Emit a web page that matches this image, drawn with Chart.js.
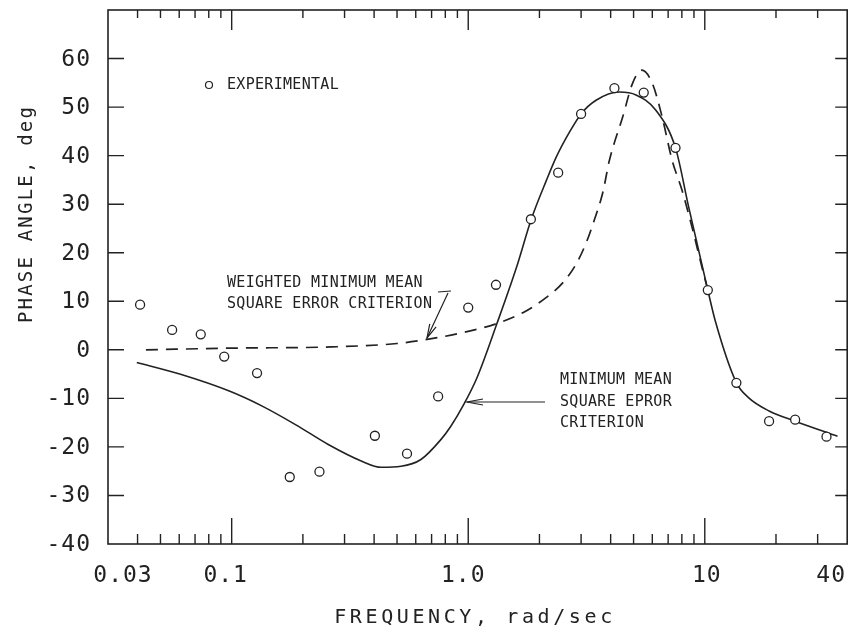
<!DOCTYPE html>
<html>
<head>
<meta charset="utf-8">
<script src="https://cdn.jsdelivr.net/npm/chart.js@4.4.0/dist/chart.umd.min.js"></script>
<style>
  html, body { margin: 0; padding: 0; background: #fff; }
  #wrap { width: 853px; height: 634px; }
</style>
</head>
<body>
<div id="wrap"><canvas id="chart" width="853" height="634"></canvas></div>
<script>
// experimental phase angle points
const expFreq  = [0.041, 0.056, 0.074, 0.093, 0.128, 0.176, 0.235, 0.403, 0.551, 0.746, 1.0, 1.31, 1.84, 2.40, 3.0, 4.15, 5.52, 7.52, 10.3, 13.6, 18.7, 24.1, 32.7];
const expPhase = [9.3, 4.1, 3.2, -1.4, -4.8, -26.2, -25.1, -17.7, -21.4, -9.6, 8.7, 13.4, 26.9, 36.5, 48.6, 53.9, 53.0, 41.6, 12.3, -6.8, -14.7, -14.4, -17.9];

// minimum mean square error criterion (solid)
const fitFreq  = [0.0397, 0.0603, 0.0977, 0.1346, 0.186, 0.256, 0.353, 0.429, 0.52, 0.631, 0.766, 0.843, 0.959, 1.09, 1.32, 1.60, 1.85, 2.14, 2.36, 2.69, 3.0, 3.47, 4.35, 5.12, 6.2, 7.52, 8.55, 10.3, 11.07, 13.6, 15.3, 18.7, 24.1, 36.4];
const fitPhase = [-2.6, -5.0, -8.5, -11.6, -15.4, -19.5, -22.9, -24.2, -24.0, -22.6, -18.5, -15.8, -11.2, -5.7, 5.3, 17.0, 27.0, 34.9, 39.8, 45.0, 48.6, 51.4, 53.1, 52.5, 49.4, 41.6, 29.4, 12.3, 6.0, -6.75, -9.85, -12.6, -14.7, -17.8];

// weighted minimum mean square error criterion (dashed)
const wFreq  = [0.0434, 0.1, 0.264, 0.5, 0.741, 1.02, 1.30, 1.71, 2.14, 2.52, 2.86, 3.15, 3.42, 3.71, 3.95, 4.5, 4.95, 5.42, 6.0, 6.6, 7.28, 8.02, 8.84, 9.73, 10.3];
const wPhase = [0, 0.35, 0.6, 1.3, 2.5, 3.9, 5.3, 7.7, 10.8, 13.9, 17.7, 22.0, 26.9, 32.5, 39.0, 48.0, 54.9, 57.6, 54.9, 48.0, 39.0, 32.8, 25.2, 17.0, 12.3];

const yTicks = [-40, -30, -20, -10, 0, 10, 20, 30, 40, 50, 60];
const xTickValues = [0.03, 0.1, 1, 10, 40];
const xTickLabels = ['0.03', '0.1', '1.0', '10', '40'];
const xMajor = [0.1, 1, 10];

const INK = '#222';
const MONO = '"DejaVu Sans Mono", "Liberation Mono", monospace';

const pts = (xs, ys) => xs.map((x, i) => ({ x: x, y: ys[i] }));

function arrowHead(ctx, tx, ty, fx, fy, len, half) {
  const dx = tx - fx, dy = ty - fy;
  const d = Math.hypot(dx, dy);
  const ux = dx / d, uy = dy / d;
  const bx = tx - ux * len, by = ty - uy * len;
  ctx.beginPath();
  ctx.moveTo(bx - uy * half, by + ux * half);
  ctx.lineTo(tx, ty);
  ctx.lineTo(bx + uy * half, by - ux * half);
  ctx.stroke();
}

const paperPlugin = {
  id: 'paper',
  beforeDraw(chart) {
    const ctx = chart.ctx;
    ctx.save();
    ctx.fillStyle = '#fff';
    ctx.fillRect(0, 0, chart.width, chart.height);
    ctx.restore();
  },
  afterDraw(chart) {
    const ctx = chart.ctx;
    const a = chart.chartArea;
    const xs = chart.scales.x, ys = chart.scales.y;
    ctx.save();
    ctx.strokeStyle = INK;
    ctx.fillStyle = INK;

    // frame
    ctx.lineWidth = 1.6;
    ctx.strokeRect(a.left, a.top, a.right - a.left, a.bottom - a.top);

    // x ticks, top and bottom, pointing inward
    ctx.lineWidth = 1.4;
    const minors = [];
    [0.01, 0.1, 1, 10].forEach(d => {
      for (let k = 2; k <= 9; k++) {
        const v = k * d;
        if (v > 0.03 && v < 40) minors.push(v);
      }
    });
    ctx.beginPath();
    minors.forEach(v => {
      const px = xs.getPixelForValue(v);
      ctx.moveTo(px, a.bottom); ctx.lineTo(px, a.bottom - 10);
      ctx.moveTo(px, a.top); ctx.lineTo(px, a.top + 8);
    });
    xMajor.forEach(v => {
      const px = xs.getPixelForValue(v);
      ctx.moveTo(px, a.bottom); ctx.lineTo(px, a.bottom - 26);
      ctx.moveTo(px, a.top); ctx.lineTo(px, a.top + 20);
    });
    // y ticks, left and right
    yTicks.forEach(v => {
      if (v <= ys.min) return;
      const py = ys.getPixelForValue(v);
      ctx.moveTo(a.left, py); ctx.lineTo(a.left + 16, py);
      ctx.moveTo(a.right, py); ctx.lineTo(a.right - 12, py);
    });
    ctx.stroke();

    // tick labels
    ctx.font = '23px ' + MONO;
    ctx.letterSpacing = '1px';
    ctx.textAlign = 'right';
    ctx.textBaseline = 'middle';
    yTicks.forEach(v => {
      const py = ys.getPixelForValue(v);
      ctx.fillText(v < 0 ? '-' + Math.abs(v) : String(v), 91, py + 1);
    });
    ctx.textAlign = 'center';
    const xLabelShift = [15, -6, -5, 2, -16];
    xTickValues.forEach((v, i) => {
      const px = xs.getPixelForValue(v) + xLabelShift[i];
      ctx.fillText(xTickLabels[i], px, a.bottom + 32);
    });

    // axis titles
    ctx.font = '20px ' + MONO;
    ctx.letterSpacing = '3.6px';
    ctx.fillText('FREQUENCY, rad/sec', 475, 618);
    ctx.save();
    ctx.translate(27, 214);
    ctx.rotate(-Math.PI / 2);
    ctx.font = '19px ' + MONO;
    ctx.letterSpacing = '2.2px';
    ctx.fillText('PHASE ANGLE, deg', 0, 0);
    ctx.restore();

    // legend
    ctx.lineWidth = 1.2;
    ctx.beginPath();
    ctx.arc(209, 85, 3.5, 0, Math.PI * 2);
    ctx.stroke();
    ctx.font = '15px ' + MONO;
    ctx.letterSpacing = '0.3px';
    ctx.textAlign = 'left';
    ctx.fillText('EXPERIMENTAL', 227, 85);

    // weighted criterion note
    ctx.fillText('WEIGHTED MINIMUM MEAN', 227, 283);
    ctx.fillText('SQUARE ERROR CRITERION', 227, 304);
    ctx.lineWidth = 1.2;
    ctx.beginPath();
    ctx.moveTo(438, 292); ctx.lineTo(451, 291);
    ctx.moveTo(448, 293); ctx.lineTo(427, 338);
    ctx.stroke();
    arrowHead(ctx, 427, 338, 448, 293, 14, 3.5);

    // minimum mean square note
    ctx.fillText('MINIMUM MEAN', 560, 380);
    ctx.fillText('SQUARE EPROR', 560, 402);
    ctx.fillText('CRITERION', 560, 423);
    ctx.beginPath();
    ctx.moveTo(545, 402); ctx.lineTo(467, 402);
    ctx.stroke();
    arrowHead(ctx, 467, 402, 545, 402, 16, 3);

    ctx.restore();
  }
};

new Chart(document.getElementById('chart'), {
  type: 'scatter',
  data: {
    datasets: [
      {
        label: 'Experimental',
        data: pts(expFreq, expPhase),
        showLine: false,
        pointRadius: 4.5,
        pointBorderWidth: 1.3,
        pointBackgroundColor: '#fff',
        pointBorderColor: INK
      },
      {
        label: 'Minimum mean square error criterion',
        data: pts(fitFreq, fitPhase),
        showLine: true,
        borderColor: INK,
        borderWidth: 1.6,
        pointRadius: 0,
        cubicInterpolationMode: 'monotone'
      },
      {
        label: 'Weighted minimum mean square error criterion',
        data: pts(wFreq, wPhase),
        showLine: true,
        borderColor: INK,
        borderWidth: 1.7,
        borderDash: [12, 8],
        pointRadius: 0,
        cubicInterpolationMode: 'monotone'
      }
    ]
  },
  options: {
    responsive: false,
    devicePixelRatio: 1,
    animation: false,
    layout: { padding: { left: 108, right: 1, top: 10, bottom: 90 } },
    plugins: { legend: { display: false }, tooltip: { enabled: false } },
    scales: {
      x: { type: 'logarithmic', min: 0.03, max: 40, display: false },
      y: { type: 'linear', min: -40, max: 70, display: false }
    }
  },
  plugins: [paperPlugin]
});
</script>
</body>
</html>
